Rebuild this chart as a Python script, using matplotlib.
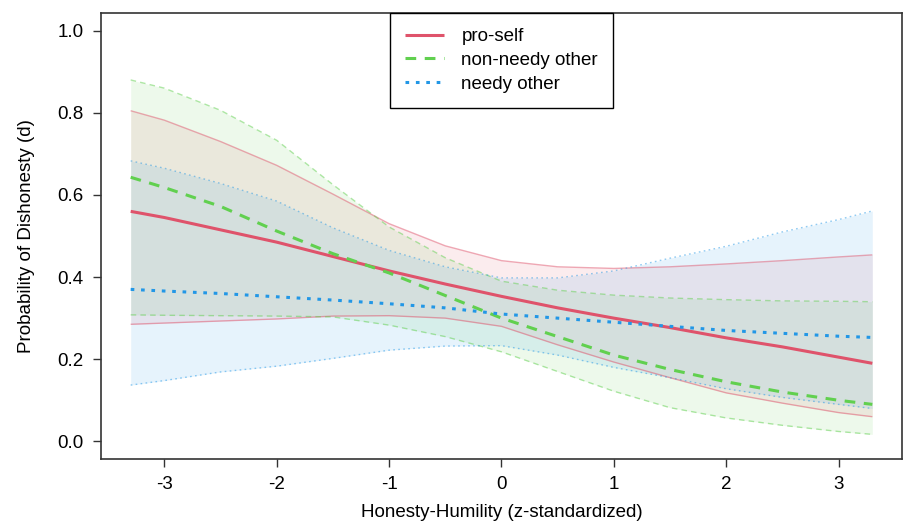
import numpy as np
import matplotlib.pyplot as plt

plt.rcParams['font.family'] = ['Liberation Sans', 'DejaVu Sans']

# Werte
hh = [-3.3, -3.0, -2.5, -2.0, -1.5, -1.0, -0.5, 0.0, 0.5, 1.0, 1.5, 2.0, 2.5, 3.0, 3.3]

self_fit = [0.560, 0.545, 0.515, 0.485, 0.450, 0.415, 0.383, 0.353, 0.325, 0.300, 0.277, 0.252, 0.230, 0.205, 0.190]
self_hi = [0.805, 0.782, 0.730, 0.672, 0.602, 0.530, 0.476, 0.440, 0.425, 0.421, 0.425, 0.432, 0.440, 0.449, 0.454]
self_lo = [0.285, 0.288, 0.293, 0.298, 0.305, 0.306, 0.300, 0.280, 0.235, 0.193, 0.155, 0.118, 0.093, 0.070, 0.060]

nonneedy_fit = [0.643, 0.618, 0.572, 0.512, 0.457, 0.410, 0.355, 0.300, 0.255, 0.210, 0.175, 0.145, 0.120, 0.100, 0.090]
nonneedy_hi = [0.880, 0.860, 0.806, 0.733, 0.625, 0.522, 0.447, 0.390, 0.368, 0.356, 0.349, 0.345, 0.342, 0.341, 0.340]
nonneedy_lo = [0.308, 0.307, 0.306, 0.305, 0.303, 0.283, 0.255, 0.218, 0.170, 0.122, 0.082, 0.057, 0.039, 0.024, 0.017]

needy_fit = [0.370, 0.366, 0.360, 0.352, 0.344, 0.335, 0.325, 0.310, 0.300, 0.290, 0.280, 0.270, 0.263, 0.256, 0.253]
needy_hi = [0.683, 0.665, 0.628, 0.585, 0.520, 0.465, 0.425, 0.398, 0.398, 0.415, 0.446, 0.475, 0.510, 0.540, 0.561]
needy_lo = [0.137, 0.148, 0.169, 0.183, 0.202, 0.222, 0.232, 0.233, 0.210, 0.180, 0.155, 0.128, 0.107, 0.090, 0.080]

labels = ["pro-self", "non-needy other", "needy other"]
colors = ["#DF536B", "#61D04F", "#2297E6"]
styles = [(0, ()), (0, (3.5, 2.8)), (0, (1.2, 2.2))]
ci_styles = [(0, ()), (0, (4, 3)), (0, (1.2, 2.4))]

fig = plt.figure(figsize=(9.04, 5.25), dpi=100)
ax = fig.add_axes([101/904, 66/525, 801/904, 446/525])

x = np.array(hh)
reihen = [(self_fit, self_lo, self_hi), (nonneedy_fit, nonneedy_lo, nonneedy_hi), (needy_fit, needy_lo, needy_hi)]

# Konfidenzbänder
for (fit, lo, hi), c, ls in zip(reihen, colors, ci_styles):
    ax.fill_between(x, lo, hi, color=c, alpha=0.11, linewidth=0)
    ax.plot(x, hi, color=c, alpha=0.5, lw=1.0, linestyle=ls)
    ax.plot(x, lo, color=c, alpha=0.5, lw=1.0, linestyle=ls)

# Hauptlinien
for (fit, lo, hi), c, ls, lab in zip(reihen, colors, styles, labels):
    ax.plot(x, fit, color=c, lw=2.2, linestyle=ls, label=lab)

ax.set_xlim(-3.564, 3.564)
ax.set_ylim(-0.043, 1.043)
ax.set_xticks([-3, -2, -1, 0, 1, 2, 3])
ax.set_xticklabels(["-3", "-2", "-1", "0", "1", "2", "3"])
ax.set_yticks([0.0, 0.2, 0.4, 0.6, 0.8, 1.0])
ax.set_yticklabels(["0.0", "0.2", "0.4", "0.6", "0.8", "1.0"])
ax.tick_params(direction='out', length=5.5, width=1, color='#333333', labelsize=13.5, pad=7)
for s in ax.spines.values():
    s.set_color('#333333')
    s.set_linewidth(1.2)

ax.set_xlabel("Honesty-Humility (z-standardized)", fontsize=13.5, labelpad=8)
ax.set_ylabel("Probability of Dishonesty (d)", fontsize=13.5, labelpad=16)

leg = ax.legend(loc='upper center', bbox_to_anchor=(0.5, 1.0), borderaxespad=0, fancybox=False,
                edgecolor='black', framealpha=1, fontsize=13.5, handlelength=2.1, handletextpad=0.9,
                labelspacing=0.36, borderpad=0.8)
leg.get_frame().set_linewidth(1.0)

fig.savefig("out.png", dpi=100)
